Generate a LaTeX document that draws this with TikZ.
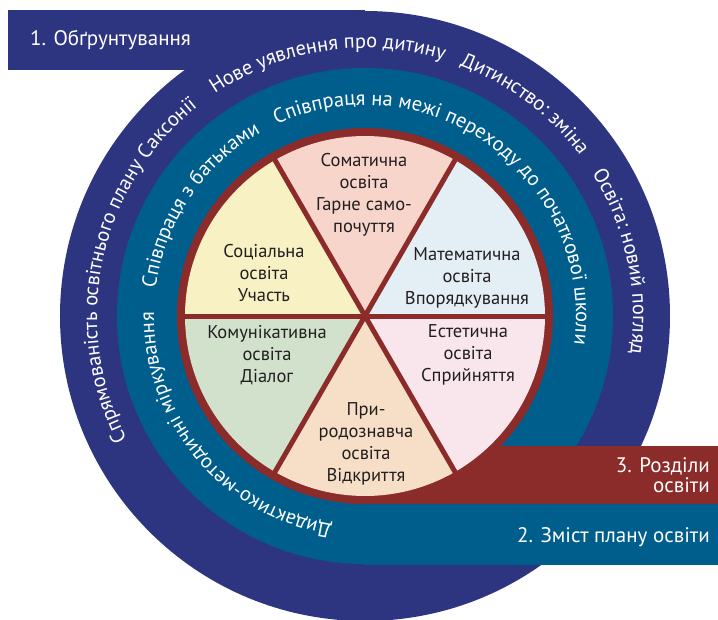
\documentclass[tikz,border=0pt]{standalone}
\usepackage{fontspec}
\setmainfont{PT Sans}
\usetikzlibrary{decorations.text}

\definecolor{planblue}{HTML}{2E3580}
\definecolor{planteal}{HTML}{005E8C}
\definecolor{planred}{HTML}{8B2B2A}
\definecolor{somcol}{HTML}{F7D5CA}
\definecolor{matcol}{HTML}{E3EFF5}
\definecolor{soccol}{HTML}{F8F1C4}
\definecolor{komcol}{HTML}{D1E1CC}
\definecolor{pricol}{HTML}{F7DFC7}
\definecolor{estcol}{HTML}{F8E6EC}
\definecolor{sectortext}{HTML}{231F20}

\newcommand{\ringfont}{\fontsize{20.5}{22}\selectfont}

\tikzset{
  sector/.style={align=center, text=sectortext, font=\fontsize{18.5}{22}\selectfont, inner sep=0pt},
  bartext/.style={text=white, font=\fontsize{21}{20}\selectfont, inner sep=0pt},
  ringtext/.style={decorate, decoration={text along path, text align=center,
      text color=white, text={|\ringfont|#1}}},
  spoke/.style={planred, line width=5pt},
}

\begin{document}
\begin{tikzpicture}[x=1pt, y=1pt]

    \useasboundingbox (-365,-303) rectangle (353,316);

    % outer ring with its bar
    \fill[planblue] (0,0) circle (305);
    \fill[planblue] (-357,306) rectangle (0,246);

    % middle ring with its bar
    \fill[planteal] (0,0) circle (248);
    \fill[planteal] (0,-188) rectangle (353,-249);

    % red bar and rim of the wheel
    \fill[planred] (0,-130) rectangle (353,-188);
    \fill[planred] (0,0) circle (188);

    % the six parts of the wheel
    \foreach \a/\c in {0/matcol, 60/somcol, 120/soccol,
                       180/komcol, 240/pricol, 300/estcol}
      \fill[\c] (0,0) -- (\a:180)
        arc[start angle=\a, end angle=\a+60, radius=180] -- cycle;
    \foreach \a in {0,60,...,300}
      \draw[spoke] (0,0) -- (\a:184);

    \node[sector] (som) at (-1,121) {Соматична\\освіта\\Гарне само-\\почуття};
    \node[sector] (mat) at (102,38) {Математична\\освіта\\Впорядкування};
    \node[sector] (soc) at (-101,43) {Соціальна\\освіта\\Участь};
    \node[sector] (kom) at (-98,-39) {Комунікативна\\освіта\\Діалог};
    \node[sector] (est) at (103,-39) {Естетична\\освіта\\Сприйняття};
    \node[sector] (pri) at (1,-128) {При-\\родознавча\\освіта\\Відкриття};

    % labels on the bars
    \node[bartext, anchor=west] (grund) at (-335,276) {1. Обґрунтування};
    \node[bartext, anchor=east, align=right] (teile) at (345,-159)
      {3. Розділи\\освіти};
    \node[bartext, anchor=east] (inhalt) at (345,-221) {2. Зміст плану освіти};

    % texts round the outer ring
    \path[ringtext={Спрямованість освітнього плану Саксонії}]
      (223:268) arc[start angle=223, end angle=113, radius=268];
    \path[ringtext={Нове уявлення про дитину}]
      (135:268) arc[start angle=135, end angle=62, radius=268];
    \path[ringtext={Дитинство: зміна}]
      (80:268) arc[start angle=80, end angle=26, radius=268];
    \path[ringtext={Освіта: новий погляд}]
      (42:268) arc[start angle=42, end angle=-18, radius=268];

    % texts round the middle ring
    \path[ringtext={Дидактико-методичні міркування}]
      (277:211) arc[start angle=277, end angle=163, radius=211];
    \path[ringtext={Співпраця з батьками}]
      (183:211) arc[start angle=183, end angle=109, radius=211];
    \path[ringtext={Співпраця на межі переходу до початкової школи}]
      (126:211) arc[start angle=126, end angle=-19, radius=211];

\end{tikzpicture}
\end{document}
